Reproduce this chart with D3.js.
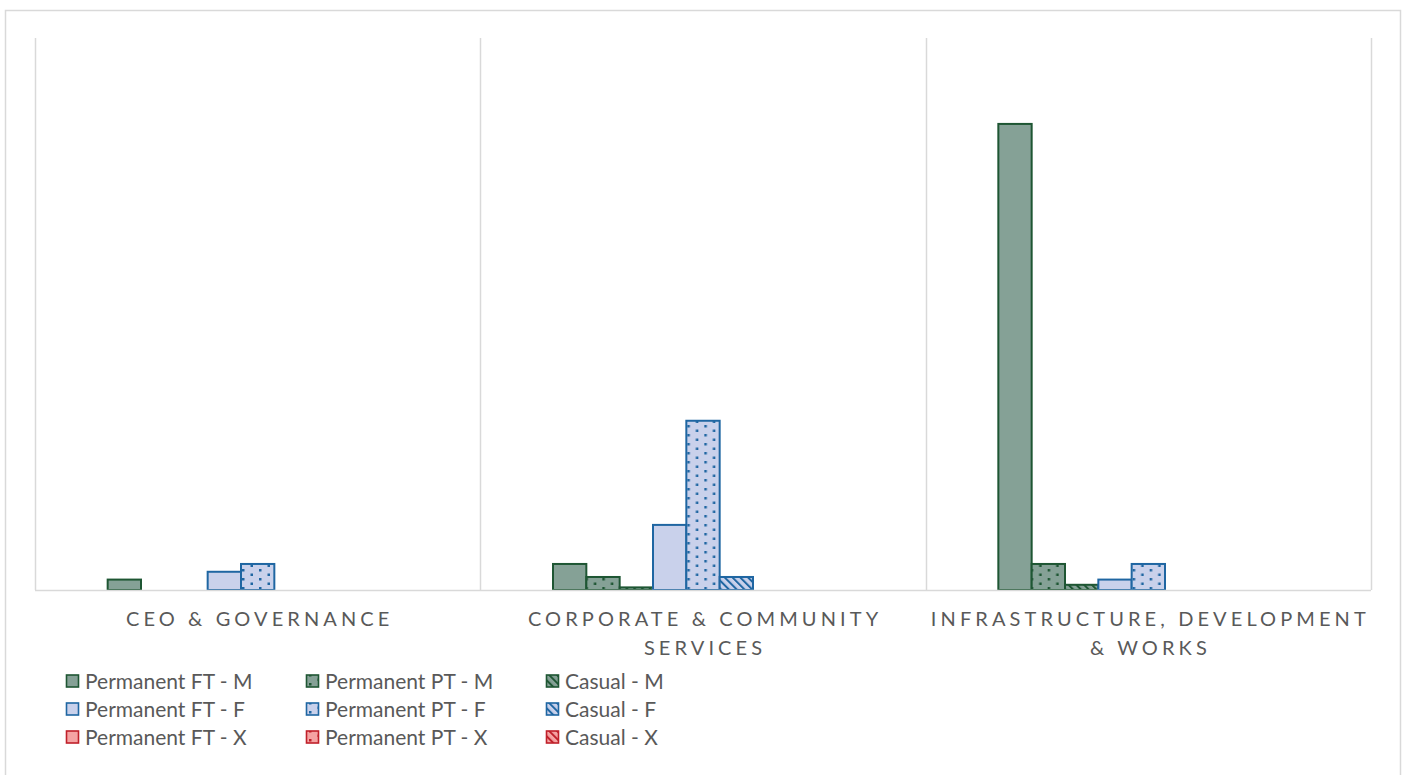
<!DOCTYPE html>
<html>
<head>
<meta charset="utf-8">
<script src="https://cdn.jsdelivr.net/npm/d3@7"></script>
<style>
  html, body { margin: 0; padding: 0; background: #fff; }
  svg { display: block; }
</style>
</head>
<body>
<svg id="chart" width="1407" height="775"></svg>
<script>
// Headcount by department, split by employment type and gender
const categories = [
  ["CEO & GOVERNANCE"],
  ["CORPORATE & COMMUNITY", "SERVICES"],
  ["INFRASTRUCTURE, DEVELOPMENT", "& WORKS"]
];
const seriesNames = [
  "Permanent FT - M", "Permanent PT - M", "Casual - M",
  "Permanent FT - F", "Permanent PT - F", "Casual - F",
  "Permanent FT - X", "Permanent PT - X", "Casual - X"
];
const permanentFTM = [4, 10, 179];
const permanentPTM = [0, 5, 10];
const casualM      = [0, 1, 2];
const permanentFTF = [7, 25, 4];
const permanentPTF = [10, 65, 10];
const casualF      = [0, 5, 0];
const permanentFTX = [0, 0, 0];
const permanentPTX = [0, 0, 0];
const casualX      = [0, 0, 0];
const seriesValues = [permanentFTM, permanentPTM, casualM, permanentFTF, permanentPTF, casualF, permanentFTX, permanentPTX, casualX];
const yMax = 212;

// gender palettes: fill, outline / pattern ink
const palette = {
  M: { fill: "#85a196", ink: "#1e5633" },
  F: { fill: "#c9d1eb", ink: "#1f66a2" },
  X: { fill: "#f5a3a3", ink: "#c0202a" }
};
const styleOf = name => {
  const g = name.slice(-1);
  const kind = name.startsWith("Casual") ? "hatch" : (name.includes("PT") ? "dots" : "solid");
  return { g, kind, ...palette[g] };
};

const svg = d3.select("#chart");
const defs = svg.append("defs");
const FONT = "Lato, 'Open Sans', sans-serif";

// fill patterns: dots for part-time, diagonal hatch for casual
Object.entries(palette).forEach(([g, p]) => {
  const dots = defs.append("pattern")
    .attr("id", "dots-" + g).attr("patternUnits", "userSpaceOnUse")
    .attr("width", 17).attr("height", 9);
  dots.append("rect").attr("width", 17).attr("height", 9).attr("fill", p.fill);
  dots.append("rect").attr("x", 3).attr("y", 2).attr("width", 2.5).attr("height", 2.5).attr("fill", p.ink);
  dots.append("rect").attr("x", 11.5).attr("y", 6.5).attr("width", 2.5).attr("height", 2.5).attr("fill", p.ink);

  const hatch = defs.append("pattern")
    .attr("id", "hatch-" + g).attr("patternUnits", "userSpaceOnUse")
    .attr("width", 5.5).attr("height", 5.5)
    .attr("patternTransform", "rotate(-45)");
  hatch.append("rect").attr("width", 5.5).attr("height", 5.5).attr("fill", p.fill);
  hatch.append("rect").attr("x", 0).attr("y", 0).attr("width", 2).attr("height", 5.5).attr("fill", p.ink);
});
const fillOf = s => s.kind === "solid" ? s.fill : `url(#${s.kind}-${s.g})`;

// chart frame
svg.append("rect")
  .attr("x", 5.5).attr("y", 10.5).attr("width", 1395).attr("height", 800)
  .attr("fill", "none").attr("stroke", "#d9d9d9").attr("stroke-width", 1.5);

const plot = { left: 35, right: 1371, top: 38, bottom: 590 };

const x0 = d3.scaleBand()
  .domain(d3.range(categories.length))
  .range([plot.left, plot.right])
  .paddingInner(0).paddingOuter(0);
const x1 = d3.scaleBand()
  .domain(d3.range(seriesNames.length))
  .range([0, x0.bandwidth()])
  .paddingOuter(2.18).paddingInner(0);
const y = d3.scaleLinear().domain([0, yMax]).range([plot.bottom, plot.top]);

// category dividers
const dividers = d3.range(categories.length + 1).map(i => i < categories.length ? x0(i) : plot.right);
svg.append("g").selectAll("line").data(dividers).join("line")
  .attr("x1", d => Math.round(d) + 0.5).attr("x2", d => Math.round(d) + 0.5)
  .attr("y1", plot.top).attr("y2", plot.bottom)
  .attr("stroke", "#d9d9d9").attr("stroke-width", 1.5);

// bars
const groups = svg.append("g").selectAll("g").data(categories).join("g")
  .attr("transform", (d, i) => `translate(${x0(i)},0)`);
groups.each(function (cat, ci) {
  const data = seriesNames.map((name, si) => ({ name, si, v: seriesValues[si][ci], s: styleOf(name) }))
    .filter(d => d.v > 0);
  d3.select(this).selectAll("rect").data(data).join("rect")
    .attr("x", d => x1(d.si))
    .attr("width", x1.bandwidth())
    .attr("y", d => y(d.v))
    .attr("height", d => y(0) - y(d.v))
    .attr("fill", d => fillOf(d.s))
    .attr("stroke", d => d.s.ink)
    .attr("stroke-width", 2);
});

// baseline
svg.append("line")
  .attr("x1", plot.left).attr("x2", plot.right)
  .attr("y1", plot.bottom + 0.5).attr("y2", plot.bottom + 0.5)
  .attr("stroke", "#d9d9d9").attr("stroke-width", 1.5);

// category labels
const spacing = 4.1;
const labels = svg.append("g").selectAll("text").data(categories).join("text")
  .attr("x", (d, i) => x0(i) + x0.bandwidth() / 2 + spacing / 2)
  .attr("y", 626)
  .attr("text-anchor", "middle")
  .attr("font-family", FONT)
  .attr("font-size", 20)
  .attr("letter-spacing", spacing + "px")
  .attr("fill", "#595959");
labels.selectAll("tspan").data(d => d).join("tspan")
  .attr("x", function () { return d3.select(this.parentNode).attr("x"); })
  .attr("dy", (d, i) => i === 0 ? 0 : 29)
  .text(d => d);

// legend
const legendCols = [66, 306, 546];
const legendRows = [681, 709, 737];
const legend = svg.append("g").selectAll("g").data(seriesNames).join("g")
  .attr("transform", (d, i) => `translate(${legendCols[i % 3]},${legendRows[Math.floor(i / 3)]})`);
legend.append("rect")
  .attr("x", 0.5).attr("y", -6).attr("width", 12).attr("height", 12)
  .attr("fill", d => fillOf(styleOf(d)))
  .attr("stroke", d => styleOf(d).ink)
  .attr("stroke-width", 1.6);
legend.append("text")
  .attr("x", 19).attr("y", 0).attr("dy", "0.36em")
  .attr("font-family", FONT)
  .attr("font-size", 21)
  .attr("fill", "#595959")
  .text(d => d);
</script>
</body>
</html>
